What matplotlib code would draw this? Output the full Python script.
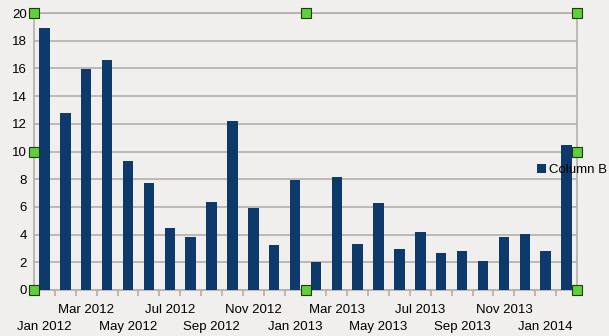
import matplotlib.pyplot as plt

plt.rcParams['font.family'] = ['Liberation Sans', 'DejaVu Sans']

months = ["Jan 2012", "Feb 2012", "Mar 2012", "Apr 2012", "May 2012", "Jun 2012",
          "Jul 2012", "Aug 2012", "Sep 2012", "Oct 2012", "Nov 2012", "Dec 2012",
          "Jan 2013", "Feb 2013", "Mar 2013", "Apr 2013", "May 2013", "Jun 2013",
          "Jul 2013", "Aug 2013", "Sep 2013", "Oct 2013", "Nov 2013", "Dec 2013",
          "Jan 2014", "Feb 2014"]
column_b = [18.9, 12.75, 15.95, 16.6, 9.3, 7.7, 4.5, 3.85, 6.35, 12.2, 5.95, 3.25,
            7.95, 2.05, 8.15, 3.3, 6.3, 2.95, 4.2, 2.65, 2.85, 2.1, 3.85, 4.05,
            2.85, 10.45]
y_ticks = [0, 2, 4, 6, 8, 10, 12, 14, 16, 18, 20]

bg = '#f0efed'
grid_col = '#b3afab'
bar_col = '#0d3a6a'
fs = 9.5

fig = plt.figure(figsize=(6.09, 3.36), dpi=100, facecolor=bg)
ax = fig.add_axes([34 / 609, 46 / 336, 543 / 609, 277 / 336])
ax.set_facecolor(bg)

x = list(range(len(months)))
ax.bar(x, column_b, width=0.5, color=bar_col, label='Column B', zorder=3)

ax.set_xlim(-0.5, len(months) - 0.5)
ax.set_ylim(0, 20)
ax.set_yticks(y_ticks)
ax.yaxis.grid(True, color=grid_col, linewidth=1.2, zorder=0)
ax.tick_params(axis='y', length=0, pad=5, labelsize=fs)

# every other month is labelled, alternating between two rows
low_row = x[0::4]
high_row = x[2::4]
ax.set_xticks(low_row)
ax.set_xticklabels([months[i] for i in low_row])
ax.set_xticks(high_row, minor=True)
ax.set_xticklabels([months[i] for i in high_row], minor=True)
ax.tick_params(axis='x', which='major', length=0, pad=22, labelsize=fs)
ax.tick_params(axis='x', which='minor', length=0, pad=10, labelsize=fs)

# small tick marks on the category boundaries
sec = ax.secondary_xaxis('bottom')
sec.set_xticks([i + 0.5 for i in x[:-1]])
sec.set_xticklabels([])
sec.tick_params(axis='x', length=4, color=grid_col, width=1.2)
sec.spines['bottom'].set_visible(False)

for side in ['left', 'right', 'bottom', 'top']:
    ax.spines[side].set_color(grid_col)
    ax.spines[side].set_linewidth(1.2)

# selection handles around the plot area
for hx, hy in [(0, 0), (0.5, 0), (1, 0), (0, 0.5), (1, 0.5), (0, 1), (0.5, 1), (1, 1)]:
    ax.plot(hx, hy, 's', transform=ax.transAxes, clip_on=False, markersize=6.5,
            markerfacecolor='#5fcf3a', markeredgecolor='#1f3a10', markeredgewidth=0.8, zorder=10)

handles, lbls = ax.get_legend_handles_labels()
fig.legend(handles, lbls, loc='center left', bbox_to_anchor=(537 / 609, 166 / 336),
           frameon=False, fontsize=fs, handlelength=0.7, handleheight=0.7,
           handletextpad=0.2, borderpad=0, borderaxespad=0)

fig.savefig('out.png', dpi=100, facecolor=bg)
